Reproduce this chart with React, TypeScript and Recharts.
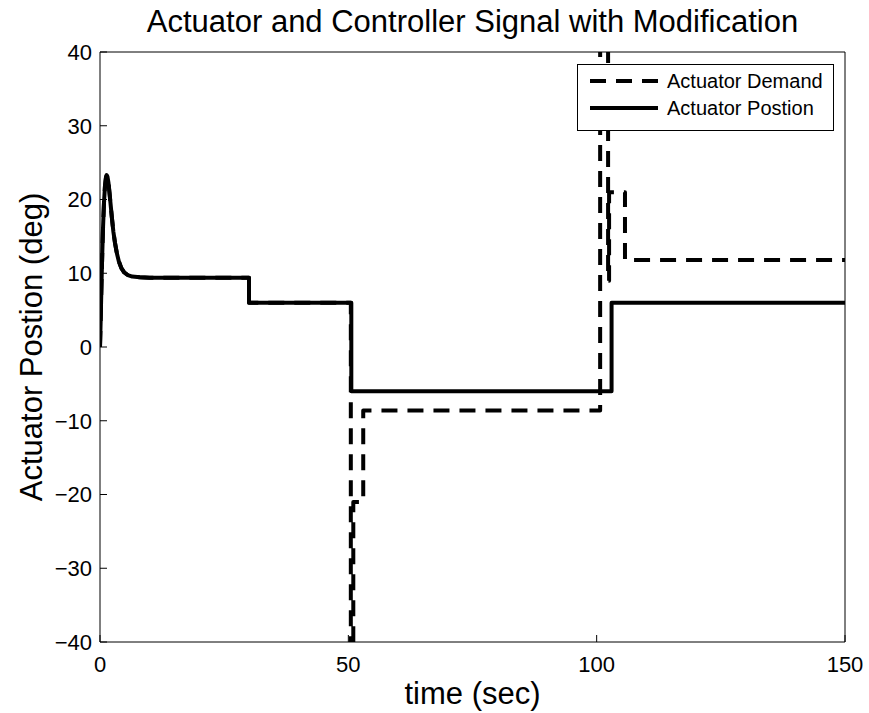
import { LineChart, Line, XAxis, YAxis, Legend } from "recharts";

const SERIES_NAMES = ["Actuator Demand", "Actuator Postion"];

// start-up transient (both signals follow it)
const startupT = [
  0, 0.15, 0.3, 0.45, 0.6, 0.8, 1.0, 1.2, 1.35, 1.5, 1.7, 1.9, 2.1, 2.4, 2.7,
  3.0, 3.4, 3.8, 4.3, 4.9, 5.6, 6.5, 8, 10,
];
const startupV = [
  0, 4, 8.5, 12.5, 16, 19.5, 21.8, 23, 23.3, 23.1, 22.3, 21, 19.6, 17.5, 15.6,
  14.2, 12.7, 11.6, 10.7, 10.1, 9.75, 9.55, 9.45, 9.4,
];

const positionT = [...startupT, 30, 30, 50.6, 50.6, 103, 103, 150];
const positionV = [...startupV, 9.4, 6, 6, -6, -6, 6, 6];

const demandT = [
  ...startupT, 30, 30, 50.5, 50.5, 51.0, 51.0, 53, 53, 100.7, 100.7,
  102.3, 102.3, 102.5, 102.5, 105.7, 105.7, 150,
];
const demandV = [
  ...startupV, 9.4, 6, 6, -80, -80, -21, -21, -8.6, -8.6, 80,
  80, 9, 9, 21, 21, 11.8, 11.8,
];

const X_TICKS = [0, 50, 100, 150];
const Y_TICKS = [-40, -30, -20, -10, 0, 10, 20, 30, 40];

const toPoints = (ts: number[], vs: number[]) => ts.map((t, i) => ({ t, v: vs[i] }));
const positionData = toPoints(positionT, positionV);
const demandData = toPoints(demandT, demandV);

const FONT = "'Liberation Sans', Arial, Helvetica, sans-serif";
const DASH = "16 10";

const fmt = (v: number) => (v < 0 ? "\u2212" + Math.abs(v) : String(v));

const LegendBox = (props: any) => {
  const items = props.payload || [];
  return (
    <div
      style={{
        width: 257,
        height: 67,
        boxSizing: "border-box",
        border: "1.3px solid #000",
        background: "#fff",
        fontFamily: FONT,
        fontSize: 20,
      }}
    >
      <svg width={255} height={65} style={{ display: "block" }}>
        {items.map((it: any, i: number) => {
          const y = 16 + i * 27;
          const dashed = it.payload?.strokeDasharray;
          return (
            <g key={i}>
              <line x1={12} x2={80} y1={y} y2={y} stroke="#000" strokeWidth={4} strokeDasharray={dashed} />
              <text x={89} y={y + 7} fill="#000" fontSize={20} fontFamily={FONT}>
                {it.value}
              </text>
            </g>
          );
        })}
      </svg>
    </div>
  );
};

export default function App() {
  return (
    <div style={{ position: "absolute", left: 0, top: 0, width: 869, height: 713, background: "#fff" }}>
      <LineChart width={869} height={713} margin={{ top: 51, right: 23, bottom: 31, left: 40 }}>
        <XAxis
          xAxisId={0}
          type="number"
          dataKey="t"
          domain={[0, 150]}
          ticks={X_TICKS}
          allowDataOverflow
          height={40}
          tickSize={-7}
          tickMargin={21}
          stroke="#000"
          tick={{ fill: "#000", fontSize: 22, fontFamily: FONT }}
        />
        <XAxis
          xAxisId="top"
          orientation="top"
          type="number"
          dataKey="t"
          domain={[0, 150]}
          ticks={X_TICKS}
          allowDataOverflow
          height={1}
          tickSize={-7}
          tick={false}
          stroke="#000"
        />
        <YAxis
          yAxisId={0}
          type="number"
          domain={[-40, 40]}
          ticks={Y_TICKS}
          allowDataOverflow
          width={60}
          tickSize={-7}
          tickMargin={15}
          stroke="#000"
          tickFormatter={fmt}
          tick={{ fill: "#000", fontSize: 22, fontFamily: FONT }}
        />
        <YAxis
          yAxisId="right"
          orientation="right"
          type="number"
          domain={[-40, 40]}
          ticks={Y_TICKS}
          allowDataOverflow
          width={1}
          tickSize={-7}
          tick={false}
          stroke="#000"
        />
        <Legend
          layout="horizontal"
          verticalAlign="middle"
          align="center"
          wrapperStyle={{ left: 577, top: 64, width: 257, height: 67 }}
          content={<LegendBox />}
        />
        <Line
          data={demandData}
          dataKey="v"
          xAxisId="top"
          yAxisId="right"
          name={SERIES_NAMES[0]}
          stroke="#000"
          strokeWidth={4}
          strokeDasharray={DASH}
          strokeLinejoin="round"
          dot={false}
          activeDot={false}
          type="linear"
          isAnimationActive={false}
        />
        <Line
          data={positionData}
          dataKey="v"
          name={SERIES_NAMES[1]}
          stroke="#000"
          strokeWidth={4}
          strokeLinejoin="round"
          dot={false}
          activeDot={false}
          type="linear"
          isAnimationActive={false}
        />
      </LineChart>
      <svg
        width={869}
        height={713}
        style={{ position: "absolute", left: 0, top: 0, pointerEvents: "none" }}
      >
        <text x={472.5} y={32} textAnchor="middle" fontSize={31} fontFamily={FONT} fill="#000">
          Actuator and Controller Signal with Modification
        </text>
        <text x={472.5} y={704} textAnchor="middle" fontSize={31} fontFamily={FONT} fill="#000">
          time (sec)
        </text>
        <text
          x={0}
          y={0}
          transform="translate(42 347) rotate(-90)"
          textAnchor="middle"
          fontSize={31}
          fontFamily={FONT}
          fill="#000"
        >
          Actuator Postion (deg)
        </text>
      </svg>
    </div>
  );
}
